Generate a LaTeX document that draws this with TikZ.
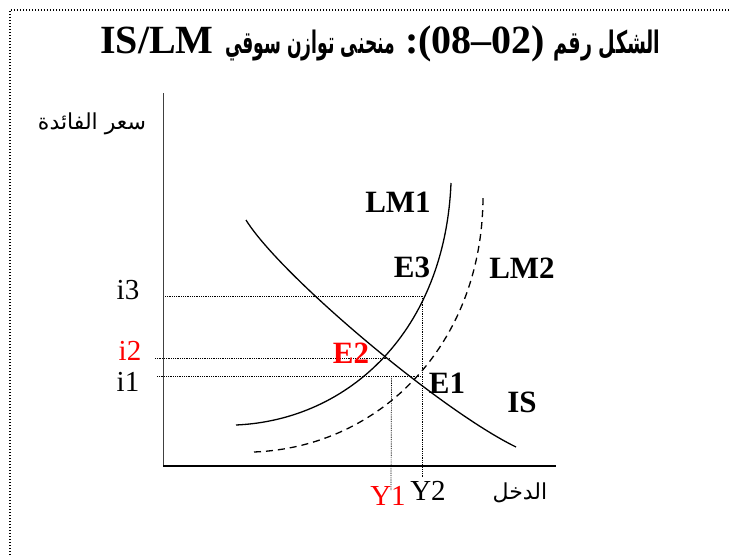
\documentclass[tikz,border=0pt]{standalone}
\usepackage{fontspec}
\setmainfont{Liberation Serif}
\newfontfamily\arabicfont[Script=Arabic]{DejaVu Sans}
\TeXXeTstate=1
\begin{document}
\begin{tikzpicture}[x=1pt,y=-1pt,
  frame/.style={line width=1.4pt, dash pattern=on 1.4pt off 1.6pt},
  guide/.style={line width=0.7pt, dash pattern=on 0.9pt off 0.9pt},
  curve/.style={line width=1.3pt},
  lbl/.style={inner sep=0pt, font=\fontsize{29}{34}\selectfont},
  blbl/.style={inner sep=0pt, font=\fontsize{31}{36}\selectfont\bfseries},
  ttl/.style={inner sep=0pt, anchor=base, font=\fontsize{40}{46}\selectfont\bfseries},
  tar/.style={inner sep=0pt, anchor=base, font=\fontsize{31}{36}\selectfont\arabicfont\bfseries}]
\useasboundingbox (0,0) rectangle (729,555);
% frame
\coordinate (fb) at (10,555);
\coordinate (fc) at (10,10);
\coordinate (fr) at (729,10);
\draw[frame] (fb) -- (fc) -- (fr);
% title
\node[ttl, anchor=base west] (t1) at (100,53) {IS/LM};
\node[tar] (t2) at (310,53) {\resizebox{170pt}{\height}{\beginR منحنى توازن سوقي\endR}};
\node[ttl] (t3) at (475,53) {:(08–02)};
\node[tar] (t4) at (607,53) {\resizebox{107pt}{\height}{\beginR الشكل رقم\endR}};
% axes
\coordinate (O) at (163,466);
\coordinate (ytop) at (163,93);
\coordinate (xend) at (556,466);
\draw[line width=0.8pt, black!75] (O) -- (ytop);
\draw[line width=1.6pt] (O) -- (xend);
\node[inner sep=0pt] (ylab) at (92,124) {\fontsize{22}{26}\selectfont\arabicfont\beginR سعر الفائدة\endR};
\node[inner sep=0pt] (xlab) at (520,493) {\fontsize{22}{26}\selectfont\arabicfont\beginR الدخل\endR};
% points
\coordinate (E3) at (422,296);
\coordinate (E2) at (390,358);
\coordinate (E1) at (421,376);
\coordinate (i3s) at (165,296);
\coordinate (i2s) at (155,358);
\coordinate (i1s) at (157,376);
\coordinate (Y1e) at (391,490);
\coordinate (Y2e) at (422,477);
% guides
\draw[guide] (i3s) -- (E3) -- (Y2e);
\draw[guide] (i2s) -- (E2);
\draw[guide] (E2 |- E1) ++(1.5,0) -- (Y1e);
\draw[guide] (i1s) -- (E1);
% curves
\coordinate (lm1a) at (236,425);
\coordinate (lm1b) at (451,183);
\draw[curve] (lm1a) .. controls (350,420) and (445,330) .. (lm1b);
\coordinate (lm2a) at (254,452);
\coordinate (lm2b) at (483,198);
\draw[curve, dash pattern=on 7pt off 5pt] (lm2a) .. controls (380,447) and (482,345) .. (lm2b);
\coordinate (isa) at (246,220);
\coordinate (isb) at (516,447);
\draw[curve] (isa) .. controls (280,275) and (440,410) .. (isb);
% labels
\node[lbl] (li3) at (128,290) {i3};
\node[lbl, text=red] (li2) at (130,351) {i2};
\node[lbl] (li1) at (128,382) {i1};
\node[lbl, text=red] (lY1) at (388,496) {Y1};
\node[lbl] (lY2) at (428,491) {Y2};
\node[blbl] (lLM1) at (398,202) {LM1};
\node[blbl] (lE3) at (412,267) {E3};
\node[blbl] (lLM2) at (522,268) {LM2};
\node[blbl, text=red] (lE2) at (351,353) {E2};
\node[blbl] (lE1) at (447,383) {E1};
\node[blbl] (lIS) at (522,402) {IS};
\end{tikzpicture}
\end{document}
